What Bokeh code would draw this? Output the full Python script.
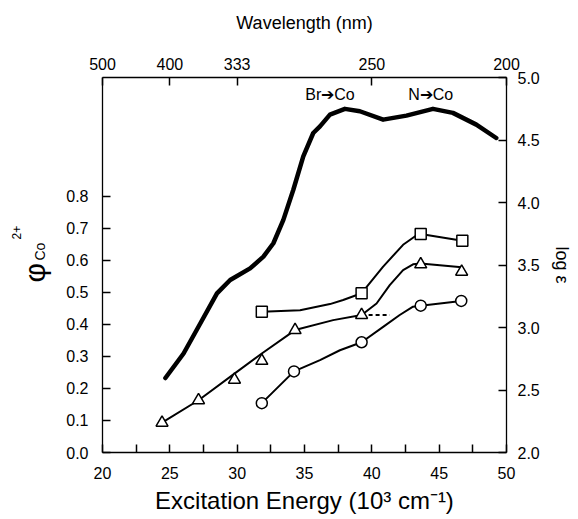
import math
from bokeh.plotting import figure
from bokeh.models import Range1d, LinearAxis, FixedTicker, PrintfTickFormatter, Label, Title
from bokeh.embed import file_html
from bokeh.resources import INLINE

FONT = "Liberation Sans"

# ---- data ----
# thick absorption curve, log(epsilon) vs energy (10^3 cm^-1)
abs_x = [24.67, 26.02, 27.26, 28.50, 29.48, 30.96, 31.95, 32.69, 33.43, 34.17, 34.91,
         35.65, 36.15, 36.89, 38.00, 39.11, 40.84, 42.57, 44.54, 46.02, 47.76, 49.24]
abs_y = [2.596, 2.792, 3.032, 3.273, 3.380, 3.473, 3.567, 3.674, 3.861, 4.102, 4.369,
         4.556, 4.609, 4.703, 4.749, 4.730, 4.663, 4.695, 4.749, 4.717, 4.623, 4.516]

# squares
sq_x = [31.83, 39.24, 43.63, 46.72]
sq_y = [0.439, 0.497, 0.682, 0.661]
sq_curve_x = [31.83, 34.67, 36.89, 37.87, 39.24, 40.84, 42.32, 43.19, 43.63, 46.72]
sq_curve_y = [0.439, 0.444, 0.463, 0.476, 0.497, 0.580, 0.648, 0.674, 0.682, 0.661]

# triangles
tr_x = [24.42, 27.13, 29.80, 31.83, 34.30, 39.24, 43.63, 46.67]
tr_y = [0.093, 0.163, 0.227, 0.286, 0.382, 0.429, 0.587, 0.564]
tr_curve_x = [24.42, 27.13, 29.80, 31.83, 34.30, 37.13, 39.24, 40.35, 41.33, 42.32, 43.06, 43.63, 46.67]
tr_curve_y = [0.093, 0.163, 0.246, 0.309, 0.382, 0.413, 0.429, 0.465, 0.522, 0.569, 0.587, 0.590, 0.578]
dash_x = [39.24, 41.33]
dash_y = [0.429, 0.429]

# circles
ci_x = [31.83, 34.22, 39.24, 43.63, 46.64]
ci_y = [0.154, 0.253, 0.344, 0.458, 0.473]
ci_curve_x = [31.83, 34.22, 36.15, 37.63, 39.24, 40.84, 42.07, 43.06, 43.63, 46.64]
ci_curve_y = [0.154, 0.253, 0.288, 0.319, 0.344, 0.392, 0.429, 0.455, 0.458, 0.473]

# axes ticks
bottom_ticks = [20, 25, 30, 35, 40, 45, 50]
bottom_minor = [22.5, 27.5, 32.5, 37.5, 42.5, 47.5]
top_ticks = [20, 25, 30, 40, 50]
top_labels = ["500", "400", "333", "250", "200"]
left_ticks = [0.0, 0.1, 0.2, 0.3, 0.4, 0.5, 0.6, 0.7, 0.8]
right_ticks = [2.0, 2.5, 3.0, 3.5, 4.0, 4.5, 5.0]

X0, X1 = 20, 50
Y0, Y1 = 0.0, 1.17

p = figure(width=574, height=519, output_backend="svg", toolbar_location=None,
           x_range=Range1d(X0, X1), y_range=Range1d(Y0, Y1),
           min_border_left=102, min_border_right=67, min_border_top=77, min_border_bottom=67,
           background_fill_color="white", border_fill_color="white")
p.extra_y_ranges = {"eps": Range1d(2.0, 5.0)}
p.grid.visible = False
p.outline_line_color = None


def style_axis(ax, standoff):
    ax.axis_line_color = "black"
    ax.axis_line_width = 1.3
    ax.major_tick_in = 8
    ax.major_tick_out = 0
    ax.major_tick_line_width = 1.5
    ax.minor_tick_in = 0
    ax.minor_tick_out = 0
    ax.major_label_text_font = FONT
    ax.major_label_text_font_size = "16px"
    ax.major_label_text_color = "black"
    ax.major_label_standoff = standoff
    ax.axis_label_text_font = FONT
    ax.axis_label_text_font_style = "normal"
    ax.axis_label_text_color = "black"


xb = p.xaxis[0]
xb.ticker = FixedTicker(ticks=bottom_ticks, minor_ticks=bottom_minor)
xb.formatter = PrintfTickFormatter(format="%d")
style_axis(xb, 14)
xb.minor_tick_in = 8
xb.minor_tick_line_width = 1.5
xb.axis_label = "Excitation Energy (10\u00b3 cm\u207b\u00b9)"
xb.axis_label_text_font_size = "24px"
xb.axis_label_standoff = 5

yl = p.yaxis[0]
yl.ticker = FixedTicker(ticks=left_ticks)
yl.formatter = PrintfTickFormatter(format="%.1f")
style_axis(yl, 14)

xt = LinearAxis(ticker=FixedTicker(ticks=top_ticks),
                major_label_overrides={t: l for t, l in zip(top_ticks, top_labels)})
style_axis(xt, 8)
xt.axis_label = "Wavelength (nm)"
xt.axis_label_text_font_size = "18px"
xt.axis_label_standoff = 22
p.add_layout(xt, "above")

yr = LinearAxis(y_range_name="eps", ticker=FixedTicker(ticks=right_ticks),
                formatter=PrintfTickFormatter(format="%.1f"))
style_axis(yr, 11)
yr.axis_label = "log \u03b5"
yr.axis_label_text_font_size = "18px"
yr.axis_label_standoff = 9
p.add_layout(yr, "right")

# left axis title: phi with subscript Co and superscript 2+, built from side titles
for txt, size, off, sto in [("Co", "14px", 192, 32), ("2+", "12px", 213, -14),
                            ("\u03c6", "30px", 170, -74)]:
    p.add_layout(Title(text=txt, text_font=FONT, text_font_size=size, text_font_style="normal",
                       text_color="black", align="left", offset=off, standoff=sto), "left")

# curves
p.line(abs_x, abs_y, y_range_name="eps", line_color="black", line_width=4.5,
       line_join="round", line_cap="round")
p.line(sq_curve_x, sq_curve_y, line_color="black", line_width=2)
p.line(tr_curve_x, tr_curve_y, line_color="black", line_width=2)
p.line(ci_curve_x, ci_curve_y, line_color="black", line_width=2)
p.line(dash_x, dash_y, line_color="black", line_width=2, line_dash="4 3")

p.scatter(sq_x, sq_y, marker="square", size=11, fill_color="white", line_color="black", line_width=1.5)
p.scatter(tr_x, tr_y, marker="triangle", size=12, fill_color="white", line_color="black", line_width=1.5)
p.scatter(ci_x, ci_y, marker="circle", size=11, fill_color="white", line_color="black", line_width=1.5)


def xd(xw):
    return X0 + (xw - 102) * (X1 - X0) / 405.0


def yd(yw):
    return (452 - yw) * (Y1 - Y0) / 375.0


def lab(text, xw, yw, size):
    p.add_layout(Label(x=xd(xw), y=yd(yw), text=text, text_font=FONT, text_font_size=size,
                       text_color="black", text_align="center", text_baseline="middle"))


lab("Br\u2794Co", 330, 94, "16px")
lab("N\u2794Co", 431, 94, "16px")

open("out.html", "w").write(file_html(p, INLINE))
